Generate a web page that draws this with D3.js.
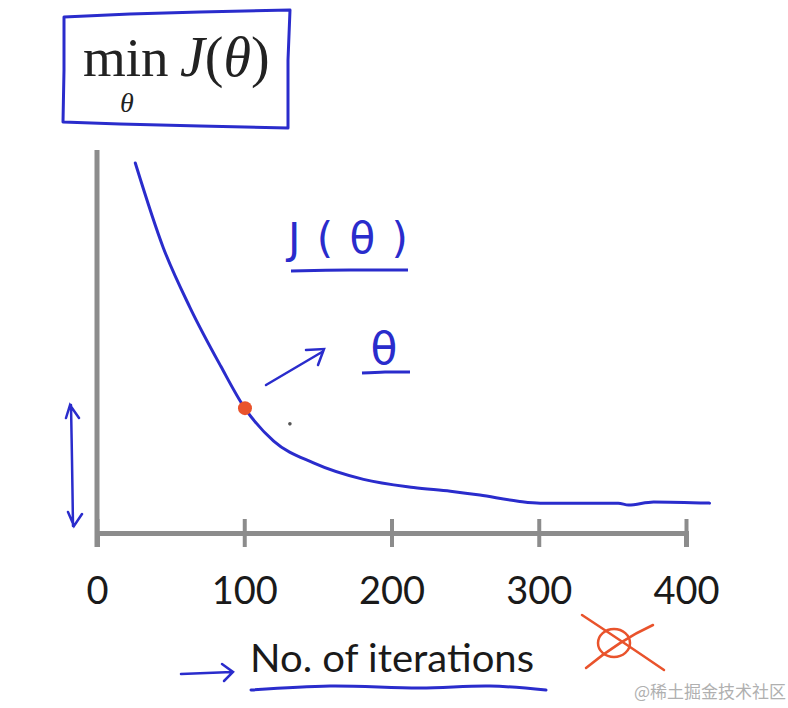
<!DOCTYPE html>
<html><head><meta charset="utf-8">
<script src="https://cdn.jsdelivr.net/npm/d3@7"></script>
<style>html,body{margin:0;padding:0;background:#fff;}svg{display:block;}</style>
</head><body>
<svg id="chart" width="788" height="708"></svg>
<script>
// ---- data ----
const xTicks = [0, 100, 200, 300, 400];
const xTickLabels = ["0", "100", "200", "300", "400"];
const iterations = [26, 45, 63, 84, 100, 120, 147, 181, 215, 240, 260, 286, 301, 354, 361, 378, 416];
const costJ =      [96.6, 74.5, 59.0, 43.6, 32.8, 24.0, 18.3, 14.0, 11.9, 10.9, 9.9, 8.3, 7.8, 7.8, 7.3, 8.1, 7.8];
const markedPoint = [100.5, 32.6];
const xLabel = "No. of iterations";
const watermark = "@稀土掘金技术社区";

const svg = d3.select("#chart");
const blue = "#2a2ccc", red = "#e9532c", grey = "#8c8c8c";

const x = d3.scaleLinear().domain([0, 400]).range([97, 686]);
const y = d3.scaleLinear().domain([0, 100]).range([533, 150]);

// axes
const xAxis = svg.append("g").attr("transform", `translate(0,${y(0)})`)
  .call(d3.axisBottom(x).tickValues(xTicks).tickFormat((d,i)=>xTickLabels[i]).tickSizeOuter(0).tickSize(14));
xAxis.select(".domain").attr("stroke", grey).attr("stroke-width", 5);
xAxis.selectAll(".tick line").attr("y1", -14).attr("y2", 14).attr("stroke", grey).attr("stroke-width", 4);
xAxis.selectAll(".tick text").attr("y", 44).attr("dy", "0.71em").attr("fill", "#1a1a1a")
  .attr("font-family", "Lato, 'Open Sans', sans-serif").attr("font-size", 38);

const yAxis = svg.append("g").attr("transform", `translate(${x(0)},0)`)
  .call(d3.axisLeft(y).tickValues([]).tickSizeOuter(0));
yAxis.select(".domain").attr("stroke", grey).attr("stroke-width", 5)
  .attr("d", `M0,${y(100)}V${y(0)+14}`);

// curve
svg.append("path").datum(iterations.map((d,i)=>[d, costJ[i]]))
  .attr("fill", "none").attr("stroke", blue).attr("stroke-width", 3).attr("stroke-linecap", "round")
  .attr("d", d3.line().x(d=>x(d[0])).y(d=>y(d[1])).curve(d3.curveMonotoneX));

// red point
svg.append("circle").attr("cx", x(markedPoint[0])).attr("cy", y(markedPoint[1])).attr("r", 7).attr("fill", red);
svg.append("circle").attr("cx", x(131)).attr("cy", y(28.5)).attr("r", 1.8).attr("fill", "#555");

// title box (hand drawn)
const pen = d3.line().curve(d3.curveCatmullRom);
const box = d3.line().curve(d3.curveLinearClosed);
svg.append("path").attr("fill", "none").attr("stroke", blue).attr("stroke-width", 3).attr("stroke-linejoin", "round")
  .attr("d", box([[64,17],[130,14],[200,12],[290,10],[288,60],[288,128],[200,126],[120,124],[63,122],[64,70]]));

svg.append("text").attr("x", 83).attr("y", 76).attr("font-family", "'Liberation Serif', serif")
  .attr("font-size", 55).attr("fill", "#222").text("min");
svg.append("text").attr("x", 180).attr("y", 76).attr("font-family", "'Liberation Serif', serif")
  .attr("font-size", 56).attr("fill", "#222")
  .html('<tspan font-style="italic">J</tspan>(<tspan font-style="italic">θ</tspan>)');
svg.append("text").attr("x", 127).attr("y", 112).attr("text-anchor", "middle")
  .attr("font-family", "'Liberation Serif', serif").attr("font-style", "italic")
  .attr("font-size", 28).attr("fill", "#222").text("θ");

// handwritten annotations
svg.append("text").attr("x", 288).attr("y", 253)
  .attr("font-family", "'DejaVu Sans', sans-serif").attr("font-size", 42).attr("fill", blue)
  .attr("textLength", 120).attr("lengthAdjust", "spacing").text("J(θ)");
svg.append("path").attr("fill", "none").attr("stroke", blue).attr("stroke-width", 3)
  .attr("d", pen([[291,271],[350,270],[408,270]]));
svg.append("text").attr("x", 384).attr("y", 364).attr("text-anchor", "middle")
  .attr("font-family", "'DejaVu Sans', sans-serif").attr("font-size", 44).attr("fill", blue).text("θ");
svg.append("path").attr("fill", "none").attr("stroke", blue).attr("stroke-width", 3)
  .attr("d", pen([[362,373],[385,372],[410,372]]));
// arrow to theta
svg.append("path").attr("fill", "none").attr("stroke", blue).attr("stroke-width", 2.5).attr("stroke-linecap", "round")
  .attr("d", "M266,385 L322,352 M306,350 L324,349 L318,365");
// vertical double arrow
svg.append("path").attr("fill", "none").attr("stroke", blue).attr("stroke-width", 2.5).attr("stroke-linecap", "round")
  .attr("d", pen([[71,405],[72,460],[73,526]]) + " M66,418 L70,405 L79,418 M68,512 L74,526 L82,514");

// x label
svg.append("text").attr("x", 250).attr("y", 672).attr("font-family", "Lato, 'Open Sans', sans-serif")
  .attr("font-size", 38).attr("fill", "#1a1a1a").attr("textLength", 284).attr("lengthAdjust", "spacingAndGlyphs").text(xLabel);
svg.append("path").attr("fill", "none").attr("stroke", blue).attr("stroke-width", 3).attr("stroke-linecap", "round")
  .attr("d", pen([[251,690],[330,686],[420,688],[490,686],[546,690]]));
svg.append("path").attr("fill", "none").attr("stroke", blue).attr("stroke-width", 2.5).attr("stroke-linecap", "round")
  .attr("d", "M181,674 L232,672 M222,664 L233,672 L224,681");

// red cross-out
svg.append("g").attr("fill", "none").attr("stroke", red).attr("stroke-width", 2.5).attr("stroke-linecap", "round")
  .call(g => {
    g.append("path").attr("d", "M582,615 Q620,640 664,670");
    g.append("path").attr("d", "M653,625 Q620,640 586,668");
    g.append("ellipse").attr("cx", 614).attr("cy", 643).attr("rx", 16).attr("ry", 14);
  });

// watermark
svg.append("text").attr("x", 786).attr("y", 698).attr("text-anchor", "end")
  .attr("font-family", "'Noto Sans CJK SC', sans-serif").attr("font-size", 17).attr("fill", "#b0b0b0").text(watermark);
</script>
</body></html>
